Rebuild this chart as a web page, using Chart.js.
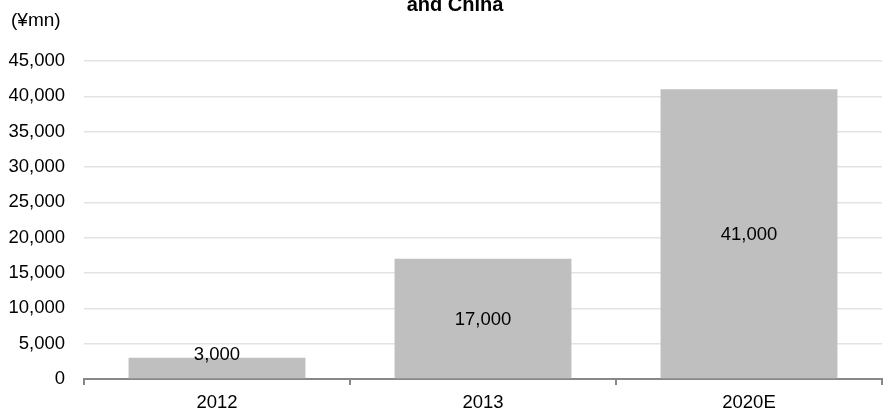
<!DOCTYPE html>
<html>
<head>
<meta charset="utf-8">
<script src="https://cdn.jsdelivr.net/npm/chart.js@4.4.0/dist/chart.umd.min.js"></script>
<style>
html,body{margin:0;padding:0;background:#fff;}
#wrap{width:893px;height:412px;position:relative;}
</style>
</head>
<body>
<div id="wrap"><canvas id="c" width="893" height="412"></canvas></div>
<script>
const categories = ["2012", "2013", "2020E"];
const values = [3000, 17000, 41000];
const yTicks = [0, 5000, 10000, 15000, 20000, 25000, 30000, 35000, 40000, 45000];
const titleText = "and China";
const unitText = "(¥mn)";

const FONT = "'Liberation Sans', Arial, sans-serif";
const fmt = v => v.toLocaleString('en-US');

const overlay = {
  id: 'overlay',
  afterDatasetsDraw(chart) {
    const ctx = chart.ctx;
    const meta = chart.getDatasetMeta(0);
    const base = chart.scales.y.getPixelForValue(0);
    ctx.save();
    ctx.fillStyle = '#000';
    ctx.font = '18.5px ' + FONT;
    ctx.textAlign = 'center';
    ctx.textBaseline = 'middle';
    meta.data.forEach((bar, i) => {
      const center = (bar.y + bar.base) / 2;
      const y = Math.min(center, base - 25);
      ctx.fillText(fmt(values[i]), bar.x, y + 1);
    });
    ctx.restore();
  },
  afterDraw(chart) {
    const ctx = chart.ctx;
    ctx.save();
    ctx.fillStyle = '#000';
    ctx.font = 'bold 20px ' + FONT;
    ctx.textAlign = 'center';
    ctx.textBaseline = 'alphabetic';
    ctx.fillText(titleText, 455, 11);
    ctx.font = '19px ' + FONT;
    ctx.textAlign = 'left';
    ctx.textBaseline = 'middle';
    ctx.fillText(unitText, 11, 21);
    ctx.restore();
  }
};

new Chart(document.getElementById('c'), {
  type: 'bar',
  data: {
    labels: categories,
    datasets: [{
      data: values,
      backgroundColor: '#bfbfbf',
      borderWidth: 0,
      categoryPercentage: 1,
      barPercentage: 0.665
    }]
  },
  options: {
    responsive: false,
    animation: false,
    events: [],
    layout: { padding: { top: 61, right: 11, left: 0, bottom: 0 } },
    plugins: { legend: { display: false }, title: { display: false }, tooltip: { enabled: false } },
    scales: {
      x: {
        grid: { display: true, offset: true, drawOnChartArea: false, drawTicks: true, tickLength: 6, color: '#888888', lineWidth: 2 },
        border: { display: true, color: '#888888', width: 2 },
        ticks: { color: '#000', font: { size: 18.5, family: FONT }, padding: 7 },
        afterFit(s) { s.height = 33; }
      },
      y: {
        min: 0, max: 45000,
        afterBuildTicks(s) { s.ticks = yTicks.map(v => ({ value: v })); },
        grid: { color: '#e3e3e3', lineWidth: 1.5, drawTicks: false },
        border: { display: false },
        ticks: { color: '#000', font: { size: 18.5, family: FONT }, padding: 19, callback: v => fmt(v) },
        afterFit(s) { s.width = 84; }
      }
    }
  },
  plugins: [overlay]
});
</script>
</body>
</html>
